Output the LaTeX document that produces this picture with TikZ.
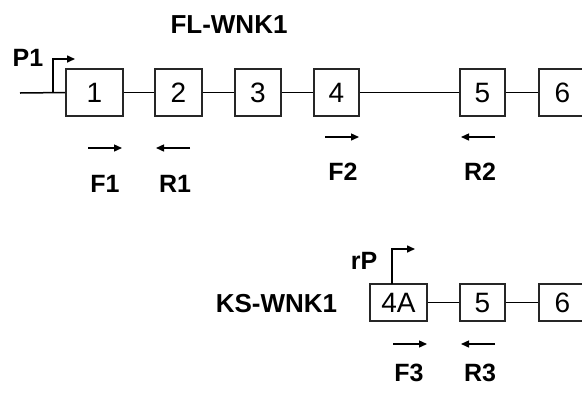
\documentclass[tikz,border=0pt]{standalone}
\usepackage{fontspec}
\setmainfont{Liberation Sans}
\usetikzlibrary{arrows.meta}

\begin{document}
\begin{tikzpicture}[x=1pt,y=-1pt,
  exon/.style={draw=black!85, line width=1.6pt, fill=white, inner sep=0pt,
               font=\fontsize{28}{28}\selectfont},
  intron/.style={line width=1.5pt},
  primer/.style={line width=1.4pt, -{Triangle[length=8pt,width=7pt]}},
  promo/.style={line width=1.6pt, -{Triangle[length=8pt,width=7pt]}},
  lbl/.style={font=\fontsize{25}{25}\selectfont\bfseries, inner sep=0pt},
  ttl/.style={font=\fontsize{26}{26}\selectfont\bfseries, inner sep=0pt}]
\clip (0,0) rectangle (582,392);
\fill[white] (0,0) rectangle (582,392);

% ---- full-length transcript ----
\node[ttl] (fl) at (229,25) {FL-WNK1};
\coordinate (flstart) at (20,93);
\node[exon, minimum width=57pt, minimum height=47pt] (e1) at (94.5,92.5) {1};
\node[exon, minimum width=47pt, minimum height=47pt] (e2) at (178.5,92.5) {2};
\node[exon, minimum width=46pt, minimum height=47pt] (e3) at (258,92.5) {3};
\node[exon, minimum width=45pt, minimum height=47pt] (e4) at (336.5,92.5) {4};
\node[exon, minimum width=45pt, minimum height=47pt] (e5) at (482.5,92.5) {5};
\node[exon, minimum width=47pt, minimum height=47pt] (e6) at (562.5,92.5) {6};

\draw[intron] (flstart) -- (e1.west);
\draw[intron] (e1.east) -- (e2.west);
\draw[intron] (e2.east) -- (e3.west);
\draw[intron] (e3.east) -- (e4.west);
\draw[intron] (e4.east) -- (e5.west);
\draw[intron] (e5.east) -- (e6.west);

% promoter P1
\coordinate (p1base) at (53,93);
\coordinate (p1tip) at (75,59);
\draw[promo] (p1base) |- (p1tip);
\node[lbl] (p1) at (28,58) {P1};

% primers on the full-length transcript
\coordinate (f1a) at (88,148);  \coordinate (f1b) at (122,148);
\coordinate (r1a) at (190,148); \coordinate (r1b) at (156,148);
\coordinate (f2a) at (325,137); \coordinate (f2b) at (359,137);
\coordinate (r2a) at (495,137); \coordinate (r2b) at (461,137);
\draw[primer] (f1a) -- (f1b);
\draw[primer] (r1a) -- (r1b);
\draw[primer] (f2a) -- (f2b);
\draw[primer] (r2a) -- (r2b);
\node[lbl] (F1) at (105,184) {F1};
\node[lbl] (R1) at (175,184) {R1};
\node[lbl] (F2) at (343,172) {F2};
\node[lbl] (R2) at (480,172) {R2};

% ---- kidney-specific transcript ----
\node[ttl] (ks) at (276.5,304) {KS-WNK1};
\node[exon, minimum width=57pt, minimum height=37pt] (k4a) at (398.5,302.5) {4A};
\node[exon, minimum width=45pt, minimum height=37pt] (k5) at (482.5,302.5) {5};
\node[exon, minimum width=47pt, minimum height=37pt] (k6) at (562.5,302.5) {6};
\draw[intron] (k4a.east) -- (k5.west);
\draw[intron] (k5.east) -- (k6.west);

% promoter rP
\coordinate (rpbase) at (392,284);
\coordinate (rptip) at (415,249);
\draw[promo] (rpbase) |- (rptip);
\node[lbl] (rp) at (364,261) {rP};

% primers on the kidney-specific transcript
\coordinate (f3a) at (393,344); \coordinate (f3b) at (427,344);
\coordinate (r3a) at (495,344); \coordinate (r3b) at (461,344);
\draw[primer] (f3a) -- (f3b);
\draw[primer] (r3a) -- (r3b);
\node[lbl] (F3) at (409,373) {F3};
\node[lbl] (R3) at (480,373) {R3};
\end{tikzpicture}
\end{document}
